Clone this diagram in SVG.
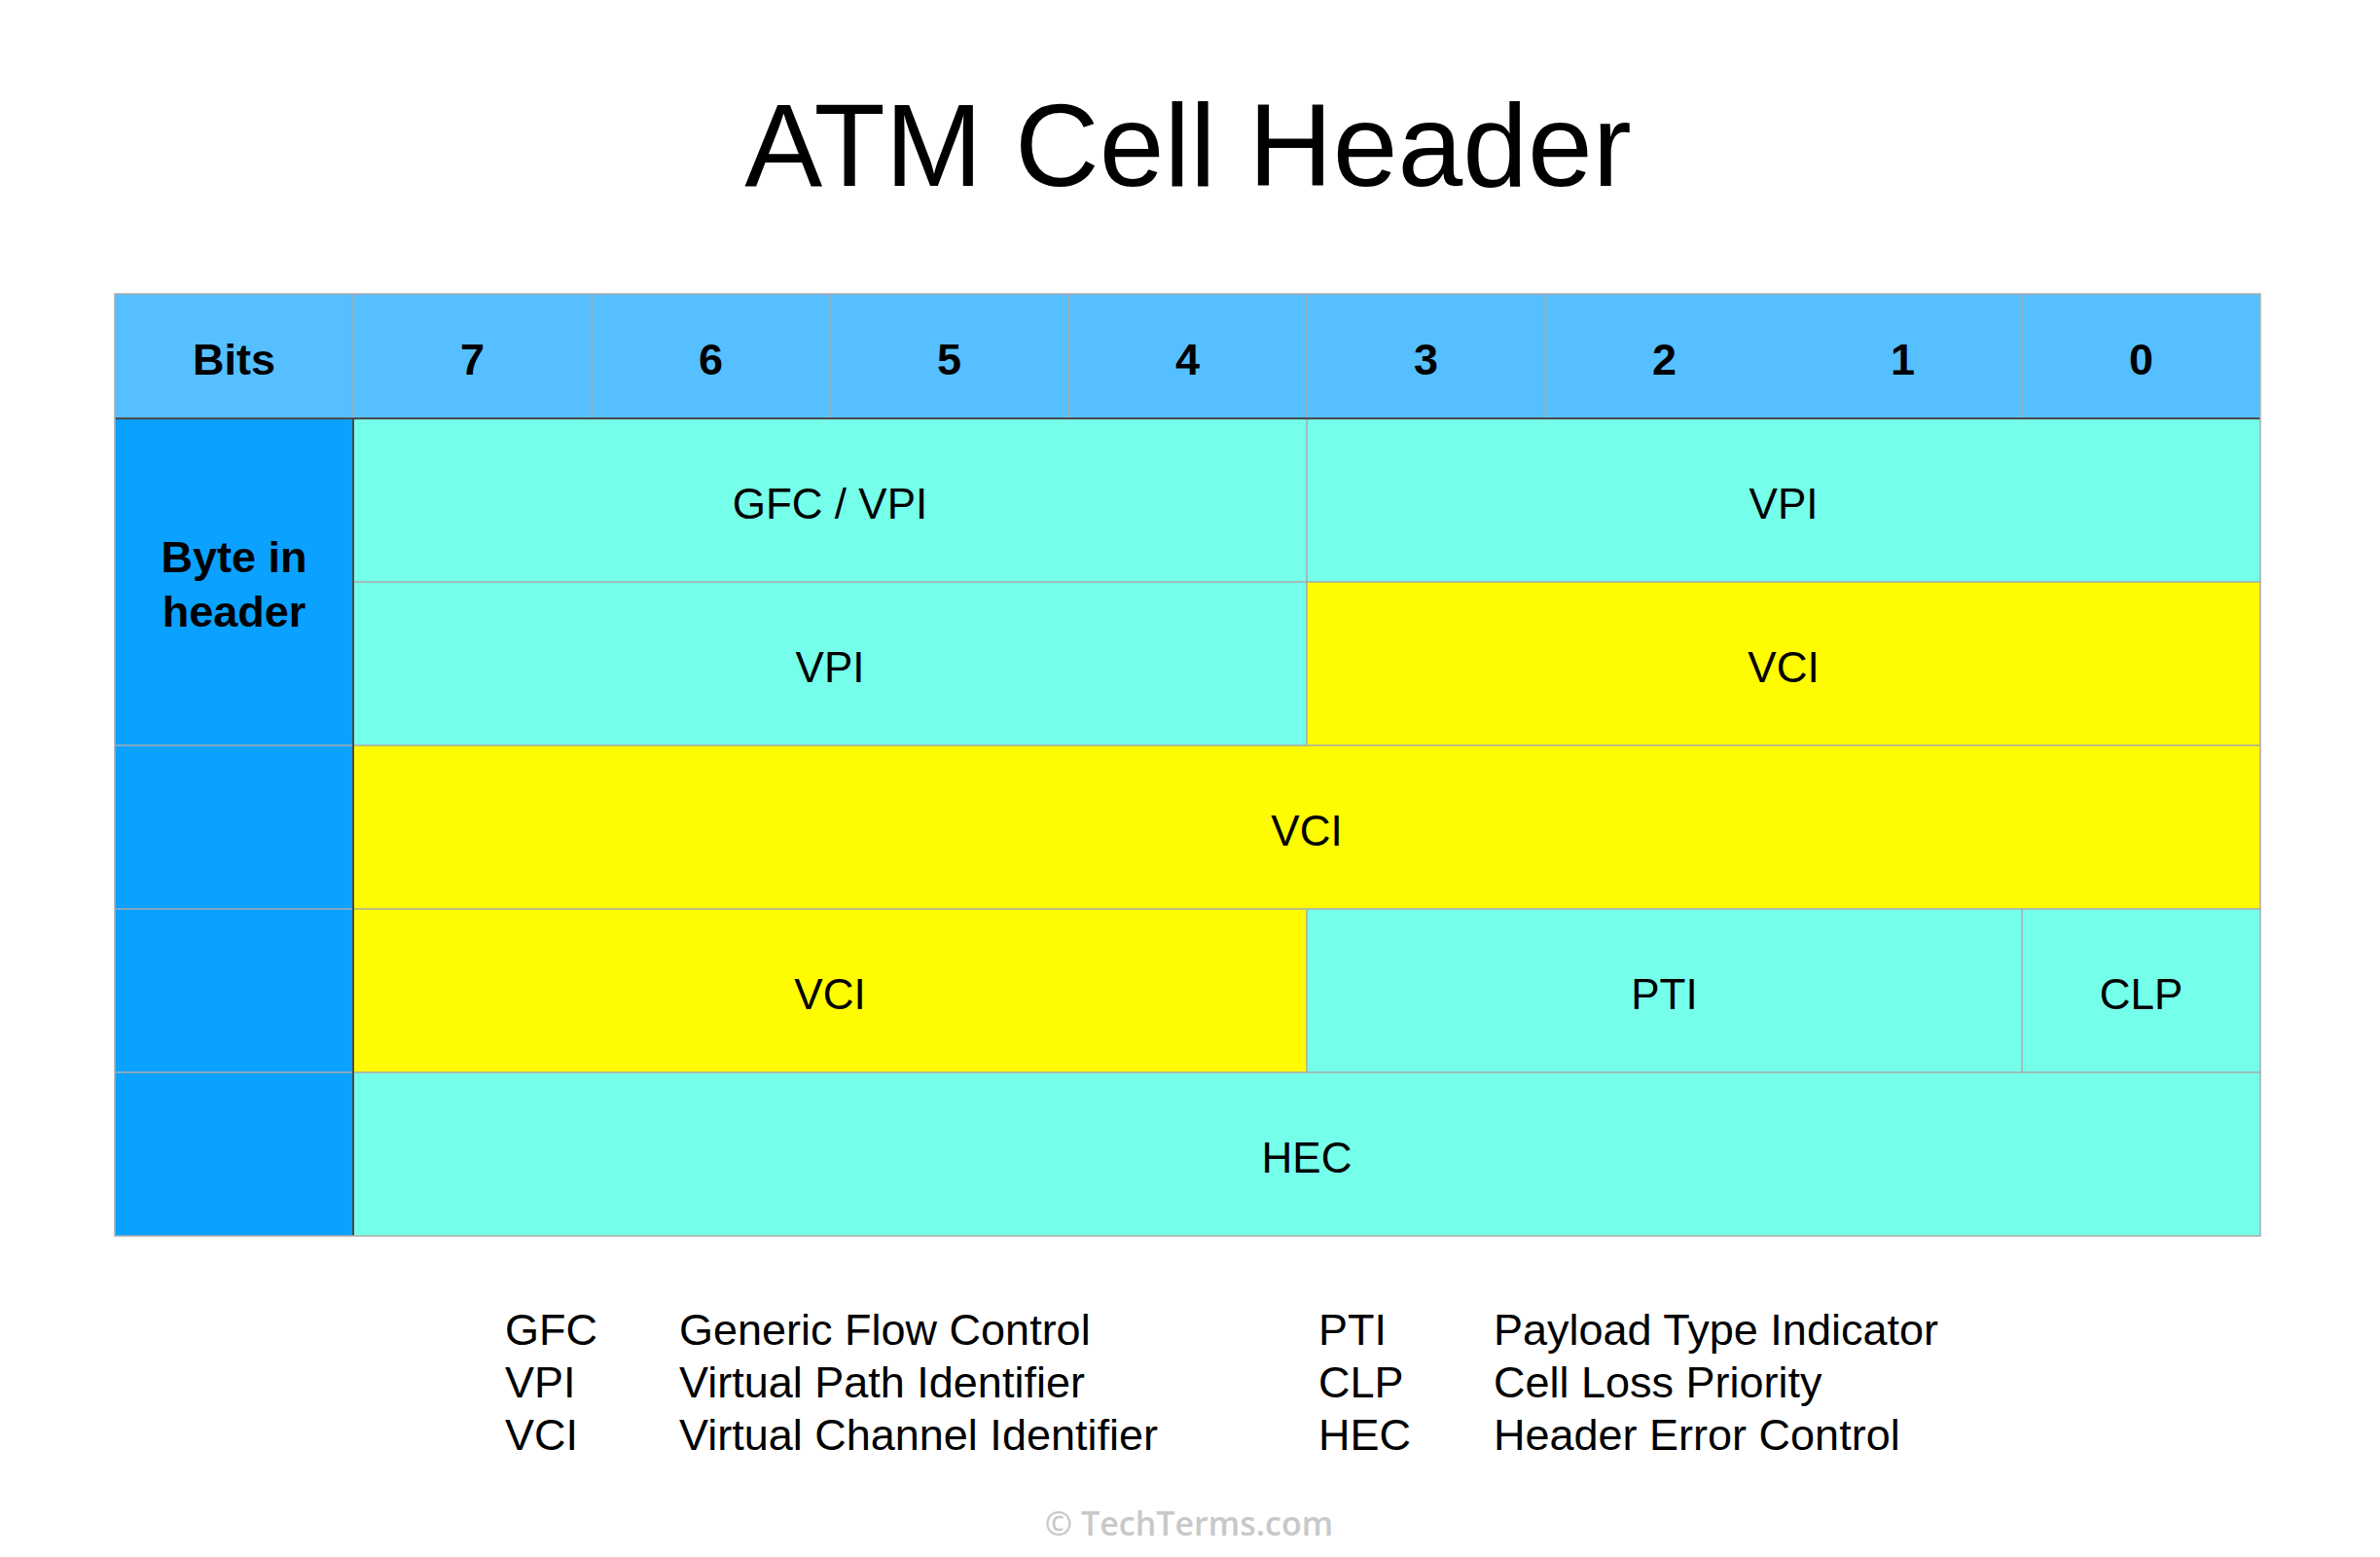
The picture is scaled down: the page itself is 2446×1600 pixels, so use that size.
<svg xmlns="http://www.w3.org/2000/svg" width="2446" height="1600" viewBox="0 0 2446 1600">
<style>
.t{font-family:"Liberation Sans",Arial,Helvetica,sans-serif;fill:#000;text-anchor:middle}
.h{font-size:45px;font-weight:bold}
.c{font-size:44px}
.lg{font-family:"Liberation Sans",Arial,Helvetica,sans-serif;font-size:45px;fill:#000}
.hd{fill:#56BFFF}
.bc{fill:#0AA1FF}
.cy{fill:#75FFEA}
.ye{fill:#FFFB00}
.gl{stroke:#ABABAB;stroke-width:1.5;fill:none}
.dk{stroke:#4A4A4A;stroke-width:2;fill:none}
</style>
<rect width="2446" height="1600" fill="#fff"/>
<text id="title" class="t" x="1221" y="191" font-size="120">ATM Cell Header</text>

<g id="header-row">
  <rect class="hd" x="118" y="302" width="2205" height="128"/>
  <text class="t h" x="240.5" y="385">Bits</text>
  <text class="t h" x="485.5" y="385">7</text>
  <text class="t h" x="730.5" y="385">6</text>
  <text class="t h" x="975.5" y="385">5</text>
  <text class="t h" x="1220.5" y="385">4</text>
  <text class="t h" x="1465.5" y="385">3</text>
  <text class="t h" x="1710.5" y="385">2</text>
  <text class="t h" x="1955.5" y="385">1</text>
  <text class="t h" x="2200.5" y="385">0</text>
</g>

<g id="byte-column">
  <rect class="bc" x="118" y="430" width="245" height="840"/>
  <text class="t h" x="240.5" y="588">Byte in</text>
  <text class="t h" x="240.5" y="644">header</text>
</g>

<g id="cell-gfc-vpi"><rect class="cy" x="363" y="430" width="980" height="168"/><text class="t c" x="853" y="533">GFC / VPI</text></g>
<g id="cell-vpi-1"><rect class="cy" x="1343" y="430" width="980" height="168"/><text class="t c" x="1833" y="533">VPI</text></g>
<g id="cell-vpi-2"><rect class="cy" x="363" y="598" width="980" height="168"/><text class="t c" x="853" y="701">VPI</text></g>
<g id="cell-vci-2"><rect class="ye" x="1343" y="598" width="980" height="168"/><text class="t c" x="1833" y="701">VCI</text></g>
<g id="cell-vci-3"><rect class="ye" x="363" y="766" width="1960" height="168"/><text class="t c" x="1343" y="869">VCI</text></g>
<g id="cell-vci-4"><rect class="ye" x="363" y="934" width="980" height="168"/><text class="t c" x="853" y="1037">VCI</text></g>
<g id="cell-pti"><rect class="cy" x="1343" y="934" width="735" height="168"/><text class="t c" x="1710.5" y="1037">PTI</text></g>
<g id="cell-clp"><rect class="cy" x="2078" y="934" width="245" height="168"/><text class="t c" x="2200.5" y="1037">CLP</text></g>
<g id="cell-hec"><rect class="cy" x="363" y="1102" width="1960" height="168"/><text class="t c" x="1343" y="1205">HEC</text></g>

<g id="connectors">
  <path class="gl" d="M363 302V430M608 302V430M853 302V430M1098 302V430M1343 302V430M1588 302V430M2078 302V430"/>
  <path class="gl" d="M1343 430V766M1343 934V1102M2078 934V1102"/>
  <path class="gl" d="M363 598H1343M1343 598H2323M118 766H2323M118 934H2323M118 1102H2323"/>
  <path class="dk" d="M118 430H2323M363 430V1270"/>
  <rect class="gl" x="118" y="302" width="2205" height="968" stroke-width="2.5"/>
</g>

<g id="legend">
  <text class="lg" x="519" y="1382">GFC</text>
  <text class="lg" x="698" y="1382">Generic Flow Control</text>
  <text class="lg" x="519" y="1436">VPI</text>
  <text class="lg" x="698" y="1436">Virtual Path Identifier</text>
  <text class="lg" x="519" y="1490">VCI</text>
  <text class="lg" x="698" y="1490">Virtual Channel Identifier</text>
  <text class="lg" x="1355" y="1382">PTI</text>
  <text class="lg" x="1535" y="1382">Payload Type Indicator</text>
  <text class="lg" x="1355" y="1436">CLP</text>
  <text class="lg" x="1535" y="1436">Cell Loss Priority</text>
  <text class="lg" x="1355" y="1490">HEC</text>
  <text class="lg" x="1535" y="1490">Header Error Control</text>
</g>

<text id="copyright" x="1222" y="1578" font-family="'Open Sans','Noto Sans',sans-serif" font-size="34" font-weight="600" fill="#C8C8C8" text-anchor="middle">© TechTerms.com</text>
</svg>
